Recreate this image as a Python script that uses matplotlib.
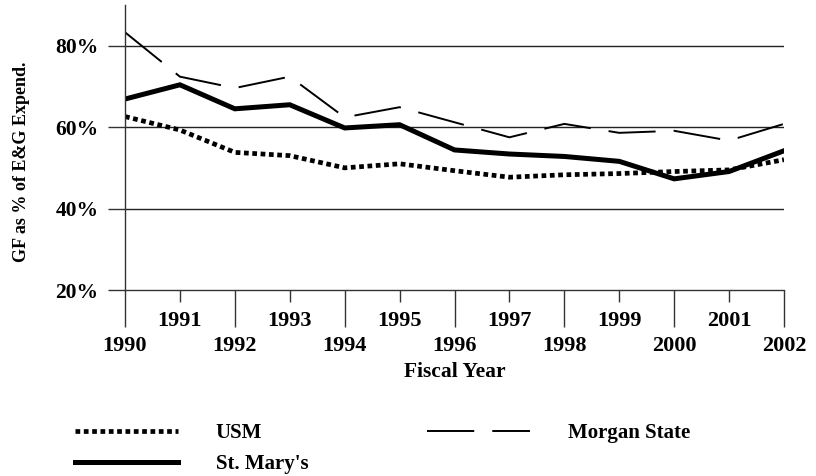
import matplotlib
matplotlib.use("Agg")
import matplotlib.pyplot as plt

# fiscal years and GF share of E&G expenditures (%)
years = [1990, 1991, 1992, 1993, 1994, 1995, 1996, 1997, 1998, 1999, 2000, 2001, 2002]
usm = [62.6, 59.3, 53.8, 53.0, 50.0, 51.0, 49.3, 47.7, 48.3, 48.6, 49.1, 49.5, 52.0]
st_marys = [66.9, 70.4, 64.5, 65.5, 59.8, 60.6, 54.4, 53.4, 52.8, 51.6, 47.3, 49.1, 54.2]
morgan = [83.3, 72.4, 69.6, 72.4, 62.4, 64.9, 61.2, 57.5, 60.8, 58.6, 59.1, 56.7, 60.8]
y_ticks = [20, 40, 60, 80]

plt.rcParams['font.family'] = ['Liberation Serif', 'DejaVu Serif']
plt.rcParams['lines.scale_dashes'] = False

fig = plt.figure(figsize=(8.16, 4.76), dpi=100)
ax = fig.add_axes([125 / 816, 1 - 290 / 476, (784 - 125) / 816, 285 / 476])

l1, = ax.plot(years, usm, color='black', lw=3.4, dashes=(3.4, 2.6), label='USM',
              dash_capstyle='butt')
l2, = ax.plot(years, st_marys, color='black', lw=3.6, label="St. Mary's",
              solid_joinstyle='miter')
l3, = ax.plot(years, morgan, color='black', lw=1.4, dashes=(34, 13), label='Morgan State')

ax.set_xlim(1990, 2002)
ax.set_ylim(20, 90)
ax.set_yticks(y_ticks)
ax.set_yticklabels([f'{v}%' for v in y_ticks], fontsize=15.5, fontweight='bold')
for v in y_ticks[1:]:
    ax.axhline(v, color='#222222', lw=1.0, zorder=0)

# even years on major (long) ticks, odd years on minor ticks
ax.set_xticks(years[::2])
ax.set_xticklabels([str(y) for y in years[::2]], fontsize=16, fontweight='bold')
ax.set_xticks(years[1::2], minor=True)
ax.set_xticklabels([str(y) for y in years[1::2]], minor=True, fontsize=16, fontweight='bold')
ax.tick_params(axis='x', which='major', length=26.4, width=1, pad=7, color='#333333')
ax.tick_params(axis='x', which='minor', length=8.4, width=1, pad=6.5, color='#333333')
ax.tick_params(axis='y', length=12, width=1, pad=7, color='#333333')

for s in ['top', 'right']:
    ax.spines[s].set_visible(False)
for s in ['left', 'bottom']:
    ax.spines[s].set_color('#333333')
    ax.spines[s].set_linewidth(1.0)

ax.set_xlabel('Fiscal Year', fontsize=15.5, fontweight='bold', labelpad=4)
ax.set_ylabel('GF as % of E&G Expend.', fontsize=13, fontweight='bold')
ax.yaxis.set_label_coords(-0.144, 0.45)

fig.legend(handles=[l1, l2, l3], loc='upper left', bbox_to_anchor=(75 / 816, 1 - 423 / 476),
           ncol=2, frameon=False, prop={'size': 15, 'weight': 'bold'},
           handlelength=4.95, handletextpad=1.8, columnspacing=5.7, labelspacing=0.55,
           borderpad=0, borderaxespad=0)

fig.savefig('out.png', dpi=100)
